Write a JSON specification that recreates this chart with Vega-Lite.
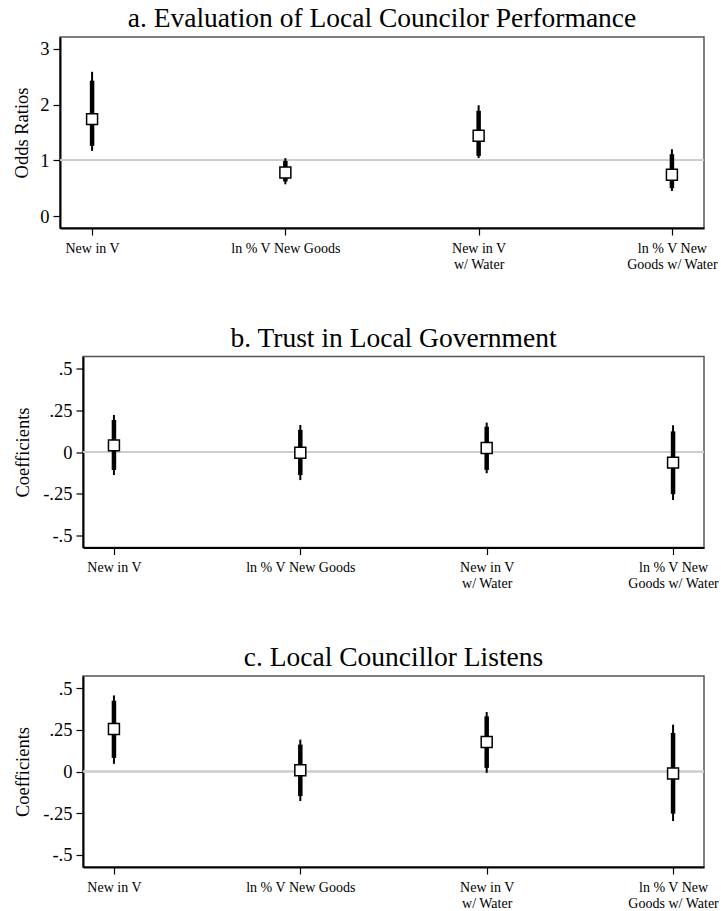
{
  "$schema": "https://vega.github.io/schema/vega-lite/v6.json",
  "background": "white",
  "padding": {"left": 11, "top": 4, "right": 1, "bottom": 0},
  "spacing": 51.5,
  "datasets": {
    "coefs": [
      {"panel": "a", "var": "New in V", "est": 1.74, "lo95": 1.17, "hi95": 2.59, "lo90": 1.26, "hi90": 2.43},
      {"panel": "a", "var": "ln % V New Goods", "est": 0.78, "lo95": 0.57, "hi95": 1.04, "lo90": 0.62, "hi90": 0.99},
      {"panel": "a", "var": "New in V w/ Water", "est": 1.44, "lo95": 1.04, "hi95": 1.99, "lo90": 1.08, "hi90": 1.89},
      {"panel": "a", "var": "ln % V New Goods w/ Water", "est": 0.74, "lo95": 0.45, "hi95": 1.2, "lo90": 0.5, "hi90": 1.11},
      {"panel": "b", "var": "New in V", "est": 0.04, "lo95": -0.139, "hi95": 0.223, "lo90": -0.108, "hi90": 0.193},
      {"panel": "b", "var": "ln % V New Goods", "est": -0.004, "lo95": -0.169, "hi95": 0.163, "lo90": -0.139, "hi90": 0.133},
      {"panel": "b", "var": "New in V w/ Water", "est": 0.024, "lo95": -0.128, "hi95": 0.177, "lo90": -0.108, "hi90": 0.152},
      {"panel": "b", "var": "ln % V New Goods w/ Water", "est": -0.064, "lo95": -0.289, "hi95": 0.161, "lo90": -0.254, "hi90": 0.124},
      {"panel": "c", "var": "New in V", "est": 0.256, "lo95": 0.046, "hi95": 0.458, "lo90": 0.082, "hi90": 0.426},
      {"panel": "c", "var": "ln % V New Goods", "est": 0.008, "lo95": -0.178, "hi95": 0.192, "lo90": -0.148, "hi90": 0.162},
      {"panel": "c", "var": "New in V w/ Water", "est": 0.178, "lo95": -0.008, "hi95": 0.358, "lo90": 0.022, "hi90": 0.332},
      {"panel": "c", "var": "ln % V New Goods w/ Water", "est": -0.012, "lo95": -0.298, "hi95": 0.282, "lo90": -0.254, "hi90": 0.232}
    ]
  },
  "vconcat": [
    {"spacing": 0, "hconcat": [
    {"width": 1, "height": 1, "data": {"values": [{}]}, "mark": {"type": "text", "text": ""}, "view": {"stroke": null}},
    {
      "width": 644,
      "height": 191,
      "title": {"text": "a. Evaluation of Local Councilor Performance"},
      "data": {"name": "coefs"},
      "transform": [{"filter": "datum.panel == 'a'"}],
      "encoding": {
        "x": {"field": "var", "type": "nominal", "sort": ["New in V", "ln % V New Goods", "New in V w/ Water", "ln % V New Goods w/ Water"], "scale": {"type": "point", "padding": 0.166}, "title": null,
          "axis": {"labelExpr": "datum.label == 'New in V w/ Water' ? ['New in V', 'w/ Water'] : datum.label == 'ln % V New Goods w/ Water' ? ['ln % V New', 'Goods w/ Water'] : datum.label"}}
      },
      "layer": [
        {"mark": {"type": "rule", "color": "#cccccc", "strokeWidth": 1.5}, "encoding": {"y": {"datum": 1, "type": "quantitative", "scale": {"domain": [-0.215, 3.215], "nice": false, "zero": false}, "axis": {"values": [0, 1, 2, 3], "labelExpr": "toString(datum.value)", "title": "Odds Ratios", "titlePadding": 8}}, "x": null}},
        {"mark": {"type": "rule", "color": "black", "strokeWidth": 2}, "encoding": {"y": {"field": "lo95", "type": "quantitative"}, "y2": {"field": "hi95"}}},
        {"mark": {"type": "rule", "color": "black", "strokeWidth": 4.5}, "encoding": {"y": {"field": "lo90", "type": "quantitative"}, "y2": {"field": "hi90"}}},
        {"mark": {"type": "point", "shape": "square", "size": 120, "filled": false, "fill": "white", "fillOpacity": 1, "stroke": "black", "strokeWidth": 1.5, "opacity": 1}, "encoding": {"y": {"field": "est", "type": "quantitative"}}}
      ]
    }]},
    {"spacing": 0, "hconcat": [
    {"width": 1, "height": 1, "data": {"values": [{}]}, "mark": {"type": "text", "text": ""}, "view": {"stroke": null}},
    {
      "width": 621,
      "height": 191,
      "title": {"text": "b. Trust in Local Government"},
      "data": {"name": "coefs"},
      "transform": [{"filter": "datum.panel == 'b'"}],
      "encoding": {
        "x": {"field": "var", "type": "nominal", "sort": ["New in V", "ln % V New Goods", "New in V w/ Water", "ln % V New Goods w/ Water"], "scale": {"type": "point", "padding": 0.166}, "title": null,
          "axis": {"labelExpr": "datum.label == 'New in V w/ Water' ? ['New in V', 'w/ Water'] : datum.label == 'ln % V New Goods w/ Water' ? ['ln % V New', 'Goods w/ Water'] : datum.label"}}
      },
      "layer": [
        {"mark": {"type": "rule", "color": "#cccccc", "strokeWidth": 1.5}, "encoding": {"y": {"datum": 0, "type": "quantitative", "scale": {"domain": [-0.575, 0.575], "nice": false, "zero": false}, "axis": {"values": [-0.5, -0.25, 0, 0.25, 0.5], "labelExpr": "replace(toString(datum.value), '0.', '.')", "title": "Coefficients", "titlePadding": 10}}, "x": null}},
        {"mark": {"type": "rule", "color": "black", "strokeWidth": 2}, "encoding": {"y": {"field": "lo95", "type": "quantitative"}, "y2": {"field": "hi95"}}},
        {"mark": {"type": "rule", "color": "black", "strokeWidth": 4.5}, "encoding": {"y": {"field": "lo90", "type": "quantitative"}, "y2": {"field": "hi90"}}},
        {"mark": {"type": "point", "shape": "square", "size": 120, "filled": false, "fill": "white", "fillOpacity": 1, "stroke": "black", "strokeWidth": 1.5, "opacity": 1}, "encoding": {"y": {"field": "est", "type": "quantitative"}}}
      ]
    }]},
    {"spacing": 0, "hconcat": [
    {"width": 1, "height": 1, "data": {"values": [{}]}, "mark": {"type": "text", "text": ""}, "view": {"stroke": null}},
    {
      "width": 621,
      "height": 191,
      "title": {"text": "c. Local Councillor Listens"},
      "data": {"name": "coefs"},
      "transform": [{"filter": "datum.panel == 'c'"}],
      "encoding": {
        "x": {"field": "var", "type": "nominal", "sort": ["New in V", "ln % V New Goods", "New in V w/ Water", "ln % V New Goods w/ Water"], "scale": {"type": "point", "padding": 0.166}, "title": null,
          "axis": {"labelExpr": "datum.label == 'New in V w/ Water' ? ['New in V', 'w/ Water'] : datum.label == 'ln % V New Goods w/ Water' ? ['ln % V New', 'Goods w/ Water'] : datum.label"}}
      },
      "layer": [
        {"mark": {"type": "rule", "color": "#cccccc", "strokeWidth": 1.5}, "encoding": {"y": {"datum": 0, "type": "quantitative", "scale": {"domain": [-0.575, 0.575], "nice": false, "zero": false}, "axis": {"values": [-0.5, -0.25, 0, 0.25, 0.5], "labelExpr": "replace(toString(datum.value), '0.', '.')", "title": "Coefficients", "titlePadding": 10}}, "x": null}},
        {"mark": {"type": "rule", "color": "black", "strokeWidth": 2}, "encoding": {"y": {"field": "lo95", "type": "quantitative"}, "y2": {"field": "hi95"}}},
        {"mark": {"type": "rule", "color": "black", "strokeWidth": 4.5}, "encoding": {"y": {"field": "lo90", "type": "quantitative"}, "y2": {"field": "hi90"}}},
        {"mark": {"type": "point", "shape": "square", "size": 120, "filled": false, "fill": "white", "fillOpacity": 1, "stroke": "black", "strokeWidth": 1.5, "opacity": 1}, "encoding": {"y": {"field": "est", "type": "quantitative"}}}
      ]
    }]}
  ],
  "config": {
    "font": "Liberation Serif",
    "view": {"stroke": "#555555", "strokeWidth": 1.5},
    "title": {"font": "Liberation Serif", "fontSize": 27.5, "fontWeight": "normal", "color": "black", "anchor": "middle", "frame": "group", "offset": 4.5},
    "axis": {"grid": false, "domainColor": "black", "domainWidth": 2, "tickColor": "black", "tickWidth": 1.2, "tickSize": 7, "labelColor": "black", "labelFont": "Liberation Serif", "titleFont": "Liberation Serif", "titleColor": "black", "titleFontWeight": "normal"},
    "axisY": {"labelFontSize": 18.5, "labelPadding": 4, "titleFontSize": 18.5, "labelAngle": 0},
    "axisX": {"labelFontSize": 14, "labelPadding": 6, "labelAngle": 0, "labelLineHeight": 16}
  }
}
